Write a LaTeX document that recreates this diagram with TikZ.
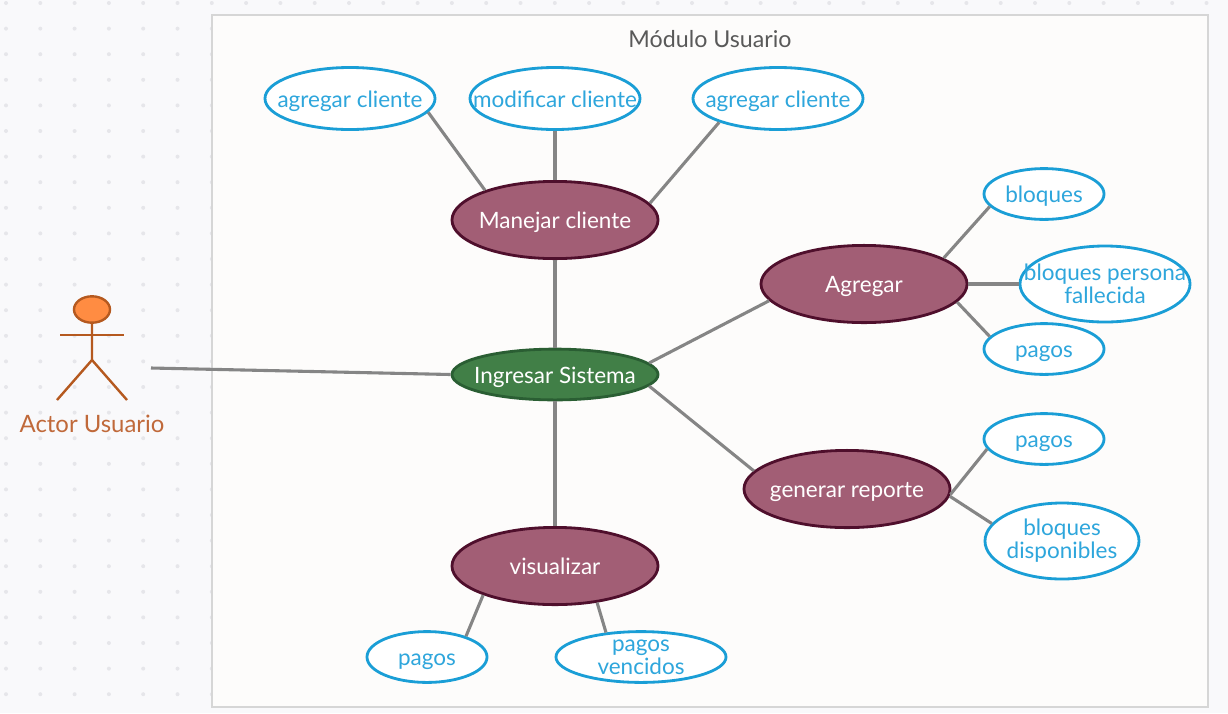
\documentclass[tikz,border=0pt]{standalone}
\usepackage{fontspec}
\setmainfont{Lato}
\usepackage{xcolor}
\usetikzlibrary{shapes.geometric}
\definecolor{paper}{HTML}{F9F9FB}
\definecolor{griddot}{HTML}{E6E6EA}
\definecolor{framefill}{HTML}{FDFCFB}
\definecolor{frameline}{HTML}{D6D6D6}
\definecolor{linkgray}{HTML}{858585}
\definecolor{caseblue}{HTML}{1A9ED6}
\definecolor{casetext}{HTML}{2EA6DC}
\definecolor{mainfill}{HTML}{A25E75}
\definecolor{mainline}{HTML}{4F0F2C}
\definecolor{loginfill}{HTML}{417F47}
\definecolor{loginline}{HTML}{2A5E33}
\definecolor{actorline}{HTML}{B5591F}
\definecolor{actorfill}{HTML}{FF8C42}
\definecolor{actortext}{HTML}{C0693A}
\tikzset{
    base/.style={ellipse, inner xsep=-1.6cm, inner ysep=-0.8cm, align=center, font=\fontsize{16}{16.5}\selectfont, line width=2pt},
    oneline/.style={text height=14pt, text depth=1.5pt},
    subcase/.style 2 args={base, draw=caseblue, fill=white, text=casetext, minimum width=#1, minimum height=#2},
    maincase/.style={base, oneline, draw=mainline, fill=mainfill, text=white, minimum width=5.15cm, minimum height=1.93cm},
    logincase/.style={base, oneline, draw=loginline, fill=loginfill, text=white, minimum width=5.15cm, minimum height=1.27cm},
    link/.style={draw=linkgray, line width=2.2pt},
    actorpart/.style={draw=actorline, line width=1.7pt}
}
\begin{document}
\begin{tikzpicture}[x=0.025cm, y=-0.025cm]
    % Background and dots
    \fill[paper] (0,0) rectangle (1228,713);
    \useasboundingbox (0,0) rectangle (1228,713);
    \foreach \col in {0,...,35}
        \foreach \row in {0,...,27}
            \fill[griddot] ({6+34.3*\col},{3+25.6*\row}) circle (0.05cm);

    % Module frame
    \draw[frameline, fill=framefill, line width=2.1pt] (212,15) rectangle (1208,707);
    \node[text=black!65, font=\fontsize{16.5}{18}\selectfont] (titulo) at (710,39) {Módulo Usuario};

    % Actor
    \node[ellipse, actorpart, fill=actorfill, inner sep=0pt, minimum width=0.9cm, minimum height=0.66cm] (cabeza) at (92,309.5) {};
    \coordinate (cadera) at (92,360);
    \coordinate (brazoizq) at (60,335);
    \coordinate (brazoder) at (124,335);
    \coordinate (pieizq) at (57,400);
    \coordinate (pieder) at (127,400);
    \coordinate (mano) at (151,368);
    \draw[actorpart] (cabeza.south) -- (cadera) -- (pieizq);
    \draw[actorpart] (cadera) -- (pieder);
    \draw[actorpart] (brazoizq) -- (brazoder);
    \node[text=actortext, font=\fontsize{17}{18}\selectfont] (actor) at (92,424) {Actor Usuario};

    % Main use cases
    \node[logincase] (ingresar) at (555,374.5) {Ingresar Sistema};
    \node[maincase] (manejar) at (555,220) {Manejar cliente};
    \node[maincase] (agregar) at (864,284) {Agregar};
    \node[maincase] (generar) at (847,489) {generar reporte};
    \node[maincase] (visualizar) at (555,566) {visualizar};

    % Sub use cases
    \node[subcase={4.25cm}{1.55cm}, oneline] (cliente1) at (350,98.5) {agregar cliente};
    \node[subcase={4.25cm}{1.55cm}, oneline] (cliente2) at (555,98.5) {modificar cliente};
    \node[subcase={4.25cm}{1.55cm}, oneline] (cliente3) at (778,98.5) {agregar cliente};
    \node[subcase={3cm}{1.27cm}, oneline] (bloques) at (1044,194) {bloques};
    \node[subcase={4.25cm}{1.9cm}] (fallecida) at (1105,284) {bloques persona\\fallecida};
    \node[subcase={3cm}{1.27cm}, oneline] (pagos1) at (1044,349) {pagos};
    \node[subcase={3cm}{1.27cm}, oneline] (pagos2) at (1044,439) {pagos};
    \node[subcase={3.85cm}{1.9cm}] (disponibles) at (1062,541) {bloques\\disponibles};
    \node[subcase={3cm}{1.27cm}, oneline] (pagos3) at (427,657) {pagos};
    \node[subcase={4.25cm}{1.27cm}] (vencidos) at (641,657) {pagos\\vencidos};

    % Connectors
    \draw[link] (mano) -- (ingresar.west);
    \draw[link] (ingresar.north) -- (manejar.south);
    \draw[link] (ingresar.south) -- (visualizar.north);
    \draw[link] (ingresar.7) -- (agregar.190);
    \draw[link] (ingresar.-7) -- (generar.169);
    \draw[link] (manejar.157) -- (cliente1.350);
    \draw[link] (manejar.north) -- (cliente2.south);
    \draw[link] (manejar.10) -- (cliente3.202);
    \draw[link] (agregar.18) -- (bloques.193);
    \draw[link] (agregar.east) -- (fallecida.west);
    \draw[link] (agregar.-11) -- (pagos1.167);
    \draw[link] (generar.-3) -- (pagos2.190);
    \draw[link] (generar.-4) -- (disponibles.166);
    \draw[link] (visualizar.202) -- (pagos3.28);
    \draw[link] (visualizar.-41) -- (vencidos.145);
\end{tikzpicture}
\end{document}
